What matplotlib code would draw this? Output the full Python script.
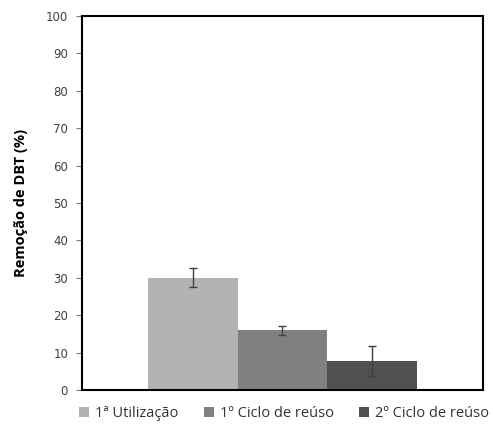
import matplotlib
matplotlib.use("Agg")
import matplotlib.pyplot as plt
import numpy as np

plt.rcParams['font.family'] = ['Open Sans', 'DejaVu Sans']

# Remoção de DBT por ciclo de uso do adsorvente
series = ["1ª Utilização", "1º Ciclo de reúso", "2º Ciclo de reúso"]
removal = [30.0, 16.0, 7.8]
errors = [2.5, 1.2, 4.0]
colors = ["#b3b3b3", "#808080", "#505050"]
yticks = [0, 10, 20, 30, 40, 50, 60, 70, 80, 90, 100]

fig = plt.figure(figsize=(4.93, 4.24), dpi=100)
ax = fig.add_axes([0.1663, 0.0802, 0.8134, 0.8821])

width = 0.2232
offsets = (np.arange(len(series)) - 1) * width
for off, val, err, col, name in zip(offsets, removal, errors, colors, series):
    ax.bar(off, val, width=width, color=col, label=name, zorder=2)
    ax.errorbar(off, val, yerr=err, fmt='none', ecolor='#404040',
                elinewidth=1.0, capsize=3, capthick=1.0, zorder=3)

ax.set_xlim(-0.5, 0.5)
ax.set_ylim(0, 100)
ax.set_yticks(yticks)
ax.set_xticks([])
ax.tick_params(axis='y', labelsize=8.5, colors='#777777', labelcolor='#404040',
               length=4, width=0.8, direction='out', pad=6)
for lbl in ax.get_yticklabels():
    lbl.set_family('DejaVu Sans')
for sp in ax.spines.values():
    sp.set_linewidth(1.5)
    sp.set_color('black')

ax.set_ylabel("Remoção de DBT (%)", fontsize=10.5, fontweight='bold', labelpad=13)

fig.legend(loc='center', bbox_to_anchor=(0.576, 0.024), ncol=3, frameon=False,
           fontsize=10.5, handlelength=0.7, handleheight=0.7, handletextpad=0.4,
           columnspacing=1.75, labelcolor='#333333')

fig.savefig("out.png", dpi=100)
